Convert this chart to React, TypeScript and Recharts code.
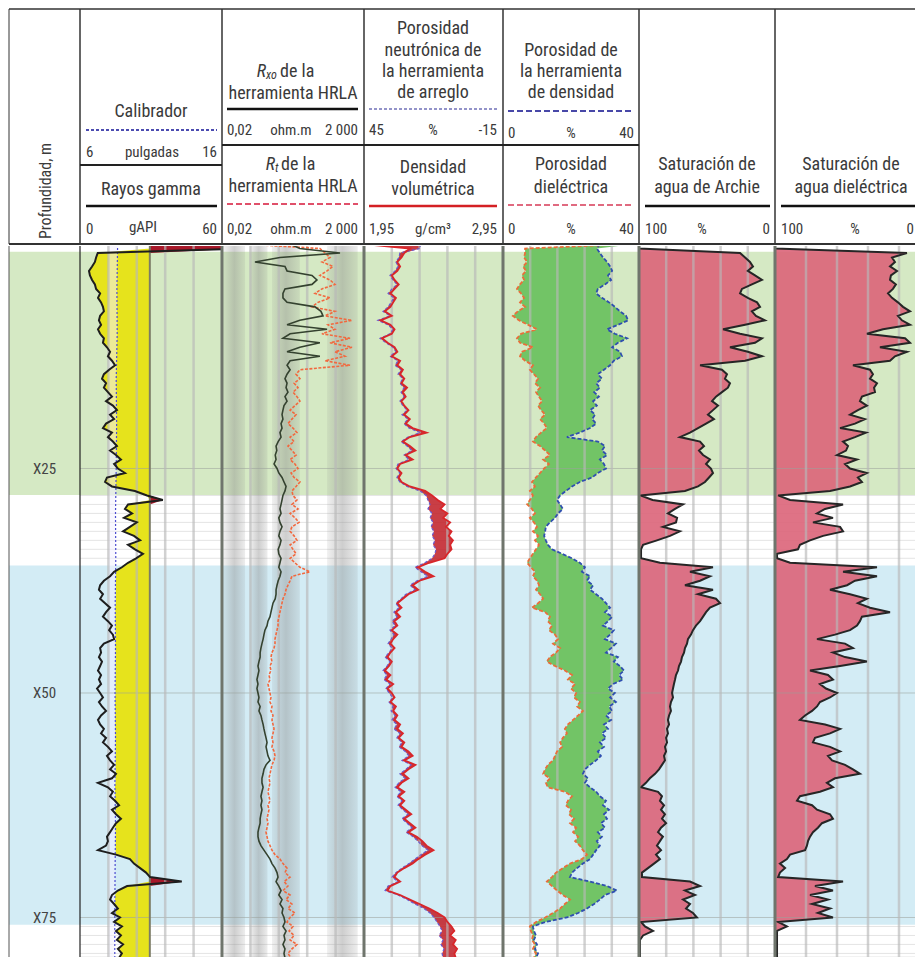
import React from 'react';
import {
  ComposedChart, Line, Area, XAxis, YAxis, CartesianGrid, ReferenceArea, ReferenceLine,
} from 'recharts';

// ---------------- data ----------------
const DEPTH_STEP = 0.5; // m, regular log sampling, depth 0 = top of plot
const DEPTH_DOMAIN: [number, number] = [0, 79.4];
const METER_TICKS = [
  0, 1, 2, 3, 4, 5, 6, 7, 8, 9, 10, 11, 12, 13, 14, 15, 16, 17, 18, 19, 20, 21, 22, 23, 24, 25, 26, 27, 28, 29,
  30, 31, 32, 33, 34, 35, 36, 37, 38, 39, 40, 41, 42, 43, 44, 45, 46, 47, 48, 49, 50, 51, 52, 53, 54, 55, 56, 57,
  58, 59, 60, 61, 62, 63, 64, 65, 66, 67, 68, 69, 70, 71, 72, 73, 74, 75, 76, 77, 78, 79,
];
const DEPTH_LABELS = [25, 50, 75];
const GREEN_ZONE = { from: 0.86, to: 27.95 };
const BLUE_ZONE = { from: 35.8, to: 75.8 };

// Gamma ray, gAPI
const GR = [
  80, 70, 7.5, 6.8, 6.3, 5.1, 3.8, 4.2, 5.1, 6.3,
  6.8, 8.5, 7.6, 8.9, 9.7, 10.1, 8.5, 8.0, 8.9, 7.6,
  8.5, 10.1, 9.7, 11.4, 12.7, 11.8, 13.5, 14.8, 12.3, 10.1,
  9.3, 11.0, 10.1, 11.8, 13.5, 11.0, 13.9, 15.6, 12.7, 14.4,
  11.0, 9.7, 13.5, 11.8, 13.9, 15.6, 12.7, 15.2, 17.3, 14.4,
  16.0, 19.0, 11.4, 10.6, 13.5, 23.2, 28.3, 35.0, 20.3, 19.0,
  22.0, 18.6, 24.0, 21.1, 18.2, 22.8, 25.4, 20.3, 23.2, 26.6,
  23.7, 20.3, 17.7, 14.4, 12.7, 10.1, 8.5, 8.0, 9.7, 8.5,
  10.6, 12.7, 11.0, 9.7, 11.8, 13.5, 12.3, 13.9, 14.4, 10.1,
  8.5, 8.9, 8.0, 9.3, 8.5, 7.6, 8.9, 8.0, 8.9, 7.2,
  8.5, 9.7, 8.0, 9.3, 11.0, 8.9, 7.6, 8.5, 10.1, 8.9,
  11.0, 9.7, 11.8, 13.5, 11.4, 12.7, 14.4, 12.7, 15.2, 13.5,
  7.6, 11.8, 13.9, 12.7, 14.8, 16.5, 13.5, 15.2, 17.3, 15.2,
  13.9, 12.7, 11.4, 11.8, 11.0, 7.6, 15.2, 21.1, 22.8, 25.4,
  27.9, 29.6, 43.0, 19.9, 16.0, 13.5, 12.7, 14.4, 16.0, 13.5,
  16.9, 14.4, 17.7, 15.2, 17.3, 15.6, 18.2, 16.0, 17.7, 16.5,
];
const GR_CUTOFF = 29.5;

// Caliper, inches (sparser sampling)
const CAL_DEPTHS = [0, 5, 10, 15, 20, 25, 30, 35, 40, 45, 50, 55, 60, 65, 70, 75, 80];
const CAL = [8.65, 8.6, 8.62, 8.55, 8.58, 8.55, 8.5, 8.52, 8.48, 8.5, 8.47, 8.5, 8.46, 8.5, 8.47, 8.45, 8.45];
const BIT_SIZE = 8.0;

// Rxo (HRLA), ohm.m
const RXO = [
  5.0, 11, 286, 2.2, 0.29, 3.3, 3.9, 29.5, 44, 29.5,
  3.3, 2.8, 2.8, 3.9, 37.6, 61, 72, 11, 3.9, 100,
  5.0, 2.8, 56, 11, 3.9, 56, 5.0, 3.9, 5.0, 3.9,
  3.3, 3.9, 3.6, 4.2, 3.3, 3.9, 3.05, 2.8, 2.6, 2.8,
  2.4, 2.6, 2.2, 2.4, 1.9, 1.6, 1.7, 1.5, 1.6, 1.36,
  1.73, 2.0, 2.6, 3.05, 3.6, 3.3, 2.8, 2.6, 2.4, 2.2,
  2.4, 2.0, 2.2, 2.6, 2.2, 2.0, 2.4, 2.2, 1.9, 2.0,
  2.4, 2.2, 2.0, 2.4, 2.2, 1.9, 1.73, 1.6, 1.6, 1.5,
  1.25, 1.15, 1.06, 0.98, 0.83, 0.77, 0.65, 0.6, 0.56, 0.51,
  0.47, 0.44, 0.44, 0.40, 0.37, 0.40, 0.37, 0.34, 0.37, 0.34,
  0.37, 0.40, 0.37, 0.44, 0.40, 0.47, 0.51, 0.56, 0.6, 0.65,
  0.71, 0.77, 0.71, 0.77, 0.83, 0.98, 0.71, 0.6, 0.56, 0.51,
  0.51, 0.56, 0.51, 0.47, 0.51, 0.47, 0.51, 0.47, 0.44, 0.44,
  0.40, 0.37, 0.37, 0.40, 0.47, 0.6, 0.77, 0.98, 1.15, 1.47,
  1.73, 1.88, 1.6, 2.0, 2.4, 2.0, 2.6, 2.2, 2.8, 2.6,
  3.05, 3.3, 2.8, 3.6, 3.05, 3.3, 2.8, 3.3, 3.05, 3.3,
];

// Rt (HRLA), ohm.m
const RT = [
  0.11, 56, 85, 127, 66, 162, 100, 56, 127, 190,
  66, 37.6, 127, 48, 29.5, 190, 85, 755, 108, 190,
  66, 643, 127, 755, 190, 428, 85, 643, 11.1, 8.1,
  11.1, 6.9, 9.5, 6.3, 8.7, 11.1, 7.4, 5.0, 8.1, 5.8,
  4.2, 6.3, 8.7, 5.0, 6.9, 4.2, 5.8, 8.1, 5.0, 7.4,
  9.5, 5.4, 6.9, 11.1, 8.1, 5.8, 6.3, 8.7, 5.8, 9.5,
  5.0, 7.4, 10.3, 5.8, 5.0, 6.9, 8.7, 5.0, 6.3, 8.1,
  5.0, 7.4, 11.1, 25, 5.8, 5.0, 4.2, 3.58, 3.3, 2.81,
  2.59, 2.39, 2.2, 2.03, 1.88, 1.88, 1.73, 1.59, 1.47, 1.47,
  1.36, 1.15, 1.06, 1.15, 0.98, 1.06, 0.9, 0.98, 0.83, 0.9,
  0.98, 1.06, 0.98, 1.15, 1.06, 1.25, 1.15, 1.25, 1.36, 1.25,
  1.15, 1.25, 1.15, 1.36, 1.47, 1.36, 1.15, 1.06, 0.98, 0.9,
  0.98, 0.9, 0.83, 0.9, 0.98, 0.83, 0.9, 0.83, 0.77, 0.83,
  0.77, 0.71, 0.77, 0.83, 0.98, 1.15, 1.47, 2.2, 2.81, 3.89,
  3.3, 4.96, 3.05, 4.2, 2.81, 4.96, 3.58, 5.8, 4.2, 7.4,
  4.96, 3.89, 6.3, 4.6, 6.9, 4.96, 8.7, 5.8, 4.2, 5.4,
];

// Bulk density, g/cm3
const RHOB = [
  1.95, 2.28, 2.24, 2.22, 2.19, 2.21, 2.19, 2.15, 2.17, 2.20,
  2.17, 2.14, 2.18, 2.16, 2.14, 2.10, 2.15, 2.07, 2.14, 2.17,
  2.15, 2.08, 2.12, 2.17, 2.19, 2.15, 2.21, 2.19, 2.23, 2.21,
  2.24, 2.22, 2.26, 2.23, 2.25, 2.22, 2.24, 2.27, 2.24, 2.28,
  2.25, 2.30, 2.40, 2.28, 2.23, 2.28, 2.32, 2.25, 2.30, 2.21,
  2.19, 2.22, 2.20, 2.22, 2.28, 2.39, 2.44, 2.48, 2.53, 2.50,
  2.55, 2.52, 2.57, 2.54, 2.58, 2.56, 2.59, 2.57, 2.58, 2.55,
  2.53, 2.42, 2.34, 2.39, 2.45, 2.35, 2.30, 2.34, 2.27, 2.23,
  2.19, 2.22, 2.18, 2.21, 2.17, 2.19, 2.15, 2.19, 2.16, 2.14,
  2.17, 2.14, 2.12, 2.15, 2.13, 2.10, 2.14, 2.11, 2.16, 2.12,
  2.15, 2.17, 2.14, 2.18, 2.16, 2.19, 2.17, 2.21, 2.19, 2.23,
  2.20, 2.24, 2.22, 2.27, 2.30, 2.24, 2.32, 2.27, 2.23, 2.27,
  2.22, 2.19, 2.24, 2.20, 2.24, 2.21, 2.25, 2.29, 2.24, 2.28,
  2.32, 2.27, 2.33, 2.37, 2.40, 2.45, 2.39, 2.34, 2.30, 2.24,
  2.19, 2.17, 2.21, 2.14, 2.12, 2.21, 2.28, 2.35, 2.42, 2.48,
  2.53, 2.55, 2.58, 2.60, 2.57, 2.61, 2.59, 2.62, 2.60, 2.61,
];

// Array neutron porosity, %
const NPHI = [
  20.8, 20.8, 29.5, 29.9, 31.2, 30.3, 31.6, 33.8, 32.5, 30.8,
  32.9, 34.6, 32.1, 33.3, 34.6, 36.8, 33.8, 39.0, 34.6, 32.5,
  33.8, 38.1, 35.5, 32.5, 31.2, 33.8, 30.3, 31.6, 29.0, 30.3,
  28.2, 29.5, 27.7, 29.0, 27.7, 29.5, 28.2, 26.4, 28.6, 26.0,
  27.7, 25.6, 20.8, 26.0, 29.0, 26.4, 24.3, 27.7, 25.6, 30.3,
  31.2, 29.5, 30.8, 29.5, 26.4, 20.8, 18.2, 17.4, 16.5, 17.4,
  15.6, 16.5, 15.2, 16.1, 14.8, 15.6, 14.4, 15.2, 13.9, 14.4,
  15.6, 18.7, 23.0, 20.4, 17.4, 22.1, 25.1, 23.0, 26.9, 29.0,
  31.2, 29.9, 32.1, 30.8, 32.9, 31.6, 33.8, 32.1, 33.3, 34.6,
  32.9, 34.2, 35.9, 33.8, 35.1, 36.8, 35.1, 36.4, 33.8, 35.5,
  34.2, 32.5, 34.2, 32.5, 33.3, 31.6, 32.9, 30.8, 32.1, 29.5,
  30.8, 28.6, 29.9, 27.3, 25.6, 28.6, 24.7, 26.9, 29.5, 27.3,
  29.9, 31.6, 29.0, 30.8, 28.6, 30.3, 28.2, 26.0, 28.6, 26.4,
  24.3, 26.9, 23.8, 21.7, 20.0, 17.4, 20.4, 23.0, 25.6, 28.6,
  31.2, 32.9, 30.3, 34.6, 35.9, 30.3, 26.4, 23.0, 19.1, 16.5,
  14.8, 13.5, 12.2, 11.3, 12.6, 10.9, 11.8, 10.5, 11.3, 10.9,
];

// Dielectric porosity, %
const PHI_DIEL = [
  39, 6.5, 6.5, 6.2, 7.1, 5.9, 6.8, 5.6, 6.2, 5.0,
  4.1, 5.3, 6.2, 5.0, 6.5, 4.4, 2.9, 4.7, 7.4, 10.0,
  5.3, 4.1, 5.0, 8.8, 5.6, 5.0, 6.5, 8.8, 7.9, 9.1,
  10.3, 9.4, 10.9, 9.7, 10.6, 11.5, 10.3, 11.2, 12.4, 10.9,
  12.1, 12.9, 11.2, 9.7, 8.8, 10.9, 12.4, 13.8, 11.8, 13.5,
  12.1, 10.9, 9.7, 8.5, 9.4, 7.9, 8.8, 7.9, 7.1, 8.5,
  9.4, 7.9, 9.1, 10.0, 8.8, 10.3, 9.4, 10.6, 9.7, 8.8,
  7.9, 7.1, 8.2, 9.4, 8.8, 10.0, 10.6, 9.7, 10.9, 11.8,
  10.3, 8.5, 12.4, 13.8, 13.2, 14.4, 13.5, 15.3, 16.2, 14.7,
  16.8, 15.6, 13.8, 12.9, 15.3, 18.2, 20.3, 19.1, 21.2, 20.0,
  21.5, 20.9, 22.6, 21.8, 23.5, 22.1, 20.6, 19.1, 18.2, 18.8,
  17.6, 16.8, 17.4, 15.9, 15.3, 14.7, 13.2, 12.4, 11.8, 13.8,
  12.6, 13.2, 18.2, 20.3, 19.1, 18.5, 20.0, 19.4, 20.9, 19.7,
  21.5, 20.6, 22.1, 21.2, 22.6, 23.5, 24.7, 23.2, 19.7, 17.6,
  15.6, 14.4, 12.9, 14.4, 15.9, 17.6, 19.7, 18.2, 16.8, 14.7,
  12.4, 9.7, 7.9, 8.2, 8.8, 8.5, 9.4, 8.8, 9.7, 9.1,
];

// Density-tool porosity, %
const PHI_DEN = [
  28.5, 27.6, 28.5, 29.4, 30.6, 31.5, 32.1, 30.9, 31.8, 30.0,
  27.9, 27.4, 29.1, 31.2, 32.9, 34.4, 36.2, 36.8, 33.8, 30.6,
  32.9, 36.5, 33.8, 32.1, 34.4, 35.0, 32.6, 31.5, 29.7, 27.9,
  29.1, 27.4, 28.5, 26.8, 28.2, 26.5, 27.6, 25.6, 27.1, 26.2,
  27.4, 25.6, 22.6, 18.8, 27.9, 30.0, 29.1, 30.6, 28.5, 29.7,
  30.3, 27.9, 26.2, 22.6, 20.3, 18.5, 16.8, 15.9, 16.8, 17.6,
  16.2, 15.3, 13.8, 12.6, 12.4, 12.1, 12.6, 13.2, 14.4, 17.4,
  20.3, 22.6, 24.1, 23.2, 25.6, 24.7, 26.5, 25.6, 27.4, 29.1,
  30.3, 31.5, 30.0, 32.1, 30.9, 29.4, 32.6, 31.5, 30.0, 33.2,
  31.8, 30.3, 33.8, 32.6, 34.4, 35.6, 34.1, 35.3, 32.4, 30.9,
  32.9, 31.5, 33.2, 31.2, 32.1, 30.3, 31.8, 29.7, 30.9, 29.1,
  30.3, 28.5, 29.7, 27.9, 28.8, 27.4, 25.6, 24.1, 23.5, 25.0,
  24.1, 25.6, 27.4, 28.5, 30.3, 29.4, 31.2, 29.7, 30.6, 28.8,
  30.0, 27.9, 29.1, 27.6, 28.5, 27.4, 26.5, 25.6, 23.5, 21.8,
  20.3, 19.7, 25.6, 30.6, 33.5, 30.0, 28.5, 26.8, 24.7, 22.1,
  18.8, 12.4, 8.8, 9.1, 9.7, 9.1, 10.0, 9.4, 10.3, 9.7,
];

// Archie water saturation, %
const SW_ARCHIE = [
  100, 100, 25.7, 22, 18.4, 16.2, 20, 14.7, 9.6, 17,
  24.3, 25.7, 20, 13.2, 11, 17, 14, 7.4, 22, 38.2,
  25.7, 9.6, 14.7, 33.1, 20, 9.6, 22, 55.1, 39, 35.3,
  36.8, 33.1, 34.6, 39, 43.4, 46.3, 41.9, 45.6, 49.3, 44.9,
  50.7, 56.6, 62.5, 69.9, 55.1, 52.2, 55.9, 52.9, 47.8, 50.7,
  47.1, 45.6, 48.5, 51.5, 56.6, 66.2, 99, 90, 67.6, 73.5,
  78.7, 72, 72.8, 82.4, 69.9, 77.2, 86.8, 97, 98.5, 98.5,
  98.5, 84.6, 45.6, 62.5, 47.8, 55.1, 66.2, 45.6, 56.6, 43.4,
  40.4, 47.8, 50.7, 52.9, 55.1, 58.1, 60.3, 61.8, 64, 64.7,
  66.2, 66.9, 68.4, 69.1, 70.6, 71.3, 72.8, 73.5, 74.3, 75,
  75.7, 75, 76.5, 77.2, 76.5, 77.9, 78.7, 77.9, 79.4, 78.7,
  80.1, 79.4, 80.9, 80.1, 81.6, 80.9, 83.1, 85.3, 88.2, 92,
  94.9, 98.5, 86, 83.1, 84.6, 81.6, 83.8, 80.9, 83.1, 80.1,
  83.8, 86, 82.4, 84.6, 86.8, 83.8, 87.5, 84.6, 89, 93.4,
  97.8, 97.8, 62.5, 55.1, 66.2, 58.8, 67.6, 62.5, 65.4, 60.3,
  57.4, 98.5, 95.6, 89.7, 97, 99.3, 99.3, 99.3, 99.3, 99.3,
];

// Dielectric water saturation, %
const SW_DIEL = [
  100, 100, 14.9, 24.5, 22.6, 25.8, 21.3, 25.2, 25.8, 22,
  23.9, 27.1, 24.5, 20.7, 17.4, 12.9, 20.7, 18.1, 12.9, 30.3,
  40.7, 16.1, 12.9, 32.3, 14.9, 22.6, 25.8, 49.7, 38.7, 36.8,
  38.7, 34.2, 36.1, 35.5, 43.9, 45.2, 40.7, 46.5, 51.6, 42,
  48.4, 58, 41.3, 48.4, 56.1, 52.9, 54.2, 60, 47.1, 54.8,
  51.6, 40.7, 46.5, 43.9, 51.6, 64.5, 98, 90.3, 56.1, 67.7,
  72.9, 62.6, 75.5, 58, 56.1, 69, 77.4, 83.9, 85.2, 98.7,
  98.7, 90.3, 34.2, 56.1, 34.2, 48.4, 53.5, 64.5, 51.6, 40.7,
  46.5, 38.7, 25.8, 43.9, 45.2, 47.1, 51.6, 61.3, 72.9, 54.8,
  49.7, 62.6, 54.8, 40.7, 58, 77.4, 65.8, 62.6, 71, 67.1,
  60, 64.5, 71, 72.9, 76.1, 80.6, 83.9, 67.7, 58, 64.5,
  74.2, 75.5, 64.5, 58, 65.8, 63.2, 54.8, 49.7, 45.2, 61.3,
  66.5, 62.6, 71, 83.9, 85.8, 76.1, 72.9, 64.5, 62.6, 69.7,
  72.3, 75.5, 77.4, 78.7, 79.4, 80.6, 90.3, 92.3, 96.8, 93.5,
  96.8, 98, 56.1, 74.2, 62.6, 77.4, 65.8, 76.1, 64.5, 72.3,
  62.6, 98, 92.3, 98.7, 98.7, 98.7, 98.7, 98.7, 98.7, 98.7,
];

// grid values per track (axis units)
const CAL_GRID = [8, 10, 12, 14];
const RES_GRID = [0.2, 2, 20, 200];
const RES_BANDS = [[0.023, 0.13], [0.19, 0.8], [1.15, 11], [100, 1200]];
const RHOB_GRID = [2.15, 2.35, 2.55, 2.75];
const PHI_GRID = [8, 16, 24, 32];
const SW_GRID = [20, 40, 60, 80];

// ---------------- derived rows ----------------
const DEPTHS = GR.map((_, i) => i * DEPTH_STEP);
const inBlue = (d: number) => d >= BLUE_ZONE.from && d <= BLUE_ZONE.to;
const calAt = (d: number) => {
  let k = 0;
  while (k < CAL_DEPTHS.length - 2 && CAL_DEPTHS[k + 1] < d) k++;
  return CAL[k];
};
const calToGR = (c: number) => ((c - 6) / 10) * 60;
const nphiToRhob = (n: number) => 1.95 + (45 - n) / 60;

const grRows = GR.map((v, i) => ({ d: DEPTHS[i], v }));
const yellowRows = GR.map((g, i) => {
  const d = DEPTHS[i];
  let lo = inBlue(d) ? Math.max(g, calToGR(calAt(d))) : g;
  lo = Math.min(lo, GR_CUTOFF);
  return { d, r: [lo, GR_CUTOFF] };
});
const redRows = GR.map((g, i) => ({ d: DEPTHS[i], r: [GR_CUTOFF, Math.max(g, GR_CUTOFF)] }));
const calRows = CAL.map((v, i) => ({ d: CAL_DEPTHS[i], v }));
const calFillRows = CAL.map((v, i) => ({ d: CAL_DEPTHS[i], r: [BIT_SIZE, v] }));
const rxoRows = RXO.map((v, i) => ({ d: DEPTHS[i], v }));
const rtRows = RT.map((v, i) => ({ d: DEPTHS[i], v }));
const rhobRows = RHOB.map((v, i) => ({ d: DEPTHS[i], v }));
const nphiRows = NPHI.map((v, i) => ({ d: DEPTHS[i], v }));
const sepRows = RHOB.map((v, i) => {
  const n = nphiToRhob(NPHI[i]);
  return { d: DEPTHS[i], r: [Math.min(v, n), Math.max(v, n)] };
});
const dielRows = PHI_DIEL.map((v, i) => ({ d: DEPTHS[i], v }));
const denRows = PHI_DEN.map((v, i) => ({ d: DEPTHS[i], v }));
const hcRows = PHI_DIEL.map((v, i) => ({ d: DEPTHS[i], r: [v, Math.max(v, PHI_DEN[i])] }));
const swaRows = SW_ARCHIE.map((v, i) => ({ d: DEPTHS[i], v, r: [v, 100] }));
const swdRows = SW_DIEL.map((v, i) => ({ d: DEPTHS[i], v, r: [v, 100] }));
const depthLabelRows = DEPTH_LABELS.map((d) => ({ d, v: 0.5 }));

// ---------------- styling ----------------
const FONT = "'Liberation Sans Narrow','Arial Narrow','Roboto Condensed','DejaVu Sans Condensed',sans-serif";
const TXT = '#3a3a3a';
const GREEN_BG = '#d5e9c4';
const BLUE_BG = '#d3ecf5';
const GRID = '#b9b9b9';
const H = 713;
const TOP = 244;
const M = { top: 0, right: 0, bottom: 0, left: 0 };

function base(key: string, withGrid = true) {
  const out = [
    <YAxis key={key + 'y'} type="number" dataKey="d" domain={DEPTH_DOMAIN} hide allowDataOverflow ticks={METER_TICKS} interval={0} />,
  ];
  if (withGrid) out.push(<CartesianGrid key={key + 'g'} vertical={false} stroke="#e4e4e4" strokeWidth={1} />);
  out.push(
    <ReferenceArea key={key + 'z1'} y1={GREEN_ZONE.from} y2={GREEN_ZONE.to} fill={GREEN_BG} fillOpacity={1} stroke="none" ifOverflow="hidden" />,
    <ReferenceArea key={key + 'z2'} y1={BLUE_ZONE.from} y2={BLUE_ZONE.to} fill={BLUE_BG} fillOpacity={1} stroke="none" ifOverflow="hidden" />,
  );
  if (withGrid) {
    DEPTH_LABELS.forEach((d) =>
      out.push(<ReferenceLine key={key + 'm' + d} y={d} stroke="#9aa39a" strokeOpacity={0.55} strokeWidth={1} />),
    );
  }
  return out;
}

const gridLines = (vals: number[], key: string, axisId?: string) =>
  vals.map((v) =>
    axisId ? (
      <ReferenceLine key={key + v} x={v} xAxisId={axisId} stroke={GRID} strokeWidth={2.5} strokeOpacity={0.65} />
    ) : (
      <ReferenceLine key={key + v} x={v} stroke={GRID} strokeWidth={2.5} strokeOpacity={0.65} />
    ),
  );

function Box({ left, width, children }: { left: number; width: number; children: React.ReactNode }) {
  return <div style={{ position: 'absolute', left, top: TOP, width, height: H }}>{children}</div>;
}

// ---------------- header ----------------
function T({ x, y, a = 'middle', s = 18, children, italic }: any) {
  return (
    <text x={x} y={y} textAnchor={a} dominantBaseline="central" fontSize={s} fill={TXT} fontFamily={FONT} fontStyle={italic ? 'italic' : undefined}>
      {children}
    </text>
  );
}

function Header() {
  const ln = '#333';
  return (
    <svg width={915} height={246} style={{ position: 'absolute', left: 0, top: 0 }}>
      <rect x={0} y={0} width={915} height={246} fill="#fff" />
      <line x1={9} y1={9} x2={915} y2={9} stroke={ln} strokeWidth={1.5} />
      {[9, 80, 222, 364, 503, 639, 775].map((x) => (
        <line key={x} x1={x} y1={9} x2={x} y2={244} stroke={ln} strokeWidth={x === 9 ? 1 : 1.5} />
      ))}
      <line x1={80} y1={165} x2={222} y2={165} stroke="#222" strokeWidth={2} />
      <line x1={222} y1={145} x2={639} y2={145} stroke="#222" strokeWidth={2} />
      <line x1={9} y1={244} x2={915} y2={244} stroke="#333" strokeWidth={2} />

      {/* depth */}
      <text x={0} y={0} transform="translate(45,191) rotate(-90)" textAnchor="middle" dominantBaseline="central" fontSize={16} fill={TXT} fontFamily={FONT}>
        Profundidad, m
      </text>

      {/* GR / caliper */}
      <T x={151} y={110}>Calibrador</T>
      <line x1={86} y1={130} x2={217} y2={130} stroke="#4b4bb0" strokeWidth={2} strokeDasharray="3 2" />
      <T x={86} y={152} a="start" s={15}>6</T>
      <T x={152} y={152} s={15}>pulgadas</T>
      <T x={217} y={152} a="end" s={15}>16</T>
      <T x={151} y={188}>Rayos gamma</T>
      <line x1={86} y1={206} x2={217} y2={206} stroke="#111" strokeWidth={2.5} />
      <T x={86} y={229} a="start" s={15}>0</T>
      <T x={143} y={227} s={15}>gAPI</T>
      <T x={217} y={229} a="end" s={15}>60</T>

      {/* resistivity */}
      <T x={266} y={70} a="end" italic>R</T>
      <T x={266} y={75} a="start" s={12} italic>xo</T>
      <T x={280} y={70} a="start">de la</T>
      <T x={293} y={92}>herramienta HRLA</T>
      <line x1={227} y1={109} x2={358} y2={109} stroke="#111" strokeWidth={2.5} />
      <T x={227} y={130} a="start" s={15}>0,02</T>
      <T x={291} y={130} s={15}>ohm.m</T>
      <T x={358} y={130} a="end" s={15}>2 000</T>
      <T x={275} y={163} a="end" italic>R</T>
      <T x={275} y={168} a="start" s={12} italic>t</T>
      <T x={281} y={163} a="start">de la</T>
      <T x={293} y={185}>herramienta HRLA</T>
      <line x1={227} y1={204} x2={358} y2={204} stroke="#e0506a" strokeWidth={2} strokeDasharray="6 3" />
      <T x={227} y={229} a="start" s={15}>0,02</T>
      <T x={291} y={229} s={15}>ohm.m</T>
      <T x={358} y={229} a="end" s={15}>2 000</T>

      {/* neutron / density */}
      <T x={433} y={27}>Porosidad</T>
      <T x={433} y={49}>neutrónica de</T>
      <T x={433} y={70}>la herramienta</T>
      <T x={433} y={91}>de arreglo</T>
      <line x1={369} y1={109} x2={497} y2={109} stroke="#7070b8" strokeWidth={1.5} strokeDasharray="3 2" />
      <T x={369} y={130} a="start" s={15}>45</T>
      <T x={433} y={130} s={15}>%</T>
      <T x={497} y={130} a="end" s={15}>-15</T>
      <T x={433} y={166}>Densidad</T>
      <T x={433} y={188}>volumétrica</T>
      <line x1={369} y1={206} x2={497} y2={206} stroke="#d42024" strokeWidth={2.5} />
      <T x={369} y={229} a="start" s={15}>1,95</T>
      <T x={433} y={229} s={15}>g/cm³</T>
      <T x={497} y={229} a="end" s={15}>2,95</T>

      {/* porosity */}
      <T x={571} y={49}>Porosidad de</T>
      <T x={571} y={70}>la herramienta</T>
      <T x={571} y={91}>de densidad</T>
      <line x1={508} y1={111} x2={634} y2={111} stroke="#4848a8" strokeWidth={2} strokeDasharray="6 3" />
      <T x={508} y={133} a="start" s={15}>0</T>
      <T x={571} y={133} s={15}>%</T>
      <T x={634} y={133} a="end" s={15}>40</T>
      <T x={571} y={163}>Porosidad</T>
      <T x={571} y={186}>dieléctrica</T>
      <line x1={508} y1={205} x2={634} y2={205} stroke="#e06a80" strokeWidth={2} strokeDasharray="6 3" />
      <T x={508} y={229} a="start" s={15}>0</T>
      <T x={571} y={229} s={15}>%</T>
      <T x={634} y={229} a="end" s={15}>40</T>

      {/* Archie */}
      <T x={707} y={163}>Saturación de</T>
      <T x={707} y={186}>agua de Archie</T>
      <line x1={645} y1={206} x2={770} y2={206} stroke="#111" strokeWidth={2.5} />
      <T x={645} y={229} a="start" s={15}>100</T>
      <T x={702} y={229} s={15}>%</T>
      <T x={770} y={229} a="end" s={15}>0</T>

      {/* dielectric Sw */}
      <T x={851} y={163}>Saturación de</T>
      <T x={851} y={186}>agua dieléctrica</T>
      <line x1={781} y1={206} x2={915} y2={206} stroke="#111" strokeWidth={2.5} />
      <T x={781} y={229} a="start" s={15}>100</T>
      <T x={855} y={229} s={15}>%</T>
      <T x={914} y={229} a="end" s={15}>0</T>
    </svg>
  );
}

function Frame() {
  const c = '#6f756c';
  return (
    <svg width={915} height={H} style={{ position: 'absolute', left: 0, top: TOP, pointerEvents: 'none' }}>
      <line x1={9} y1={0} x2={9} y2={H} stroke="#555" strokeWidth={1} />
      <line x1={80} y1={0} x2={80} y2={H} stroke="#222" strokeWidth={1.2} />
      {[222, 364, 503, 639, 775].map((x) => (
        <line key={x} x1={x} y1={0} x2={x} y2={H} stroke={c} strokeWidth={3} />
      ))}
    </svg>
  );
}

const lineProps = { type: 'linear' as const, dot: false, activeDot: false, isAnimationActive: false };

// ---------------- app ----------------
export default function App() {
  return (
    <div style={{ position: 'absolute', left: 0, top: 0, width: 915, height: 957, overflow: 'hidden', background: '#fff' }}>
      {/* depth track */}
      <Box left={9} width={71}>
        <ComposedChart layout="vertical" width={71} height={H} margin={M}>
          <XAxis type="number" domain={[0, 1]} hide allowDataOverflow />
          {base('dp', false)}
          <Line data={depthLabelRows} dataKey="v" {...lineProps} stroke="none" />
          {DEPTH_LABELS.map((d) => (
            <ReferenceLine key={'lbl' + d} y={d} stroke="none"
              label={{ value: 'X' + d, position: 'center', fill: '#444', fontSize: 15, fontFamily: FONT }} />
          ))}
        </ComposedChart>
      </Box>

      {/* GR + caliper */}
      <Box left={80} width={142}>
        <ComposedChart layout="vertical" width={142} height={H} margin={M}>
          <XAxis type="number" domain={[0, 60]} hide allowDataOverflow />
          <XAxis xAxisId="cal" type="number" domain={[6, 16]} hide allowDataOverflow />
          {base('gr')}
          {gridLines(CAL_GRID, 'cg', 'cal')}
          <Area data={yellowRows} dataKey="r" type="linear" fill="#e6e31c" fillOpacity={1} stroke="none" isAnimationActive={false} />
          <Area data={redRows} dataKey="r" type="linear" fill="#a8182a" fillOpacity={1} stroke="none" isAnimationActive={false} />
          <Area data={calFillRows} xAxisId="cal" dataKey="r" type="linear" fill="#f2f1ff" fillOpacity={0.55} stroke="none" isAnimationActive={false} />
          <ReferenceLine x={GR_CUTOFF} stroke="#7c7c66" strokeWidth={2} />
          <Line data={calRows} xAxisId="cal" dataKey="v" {...lineProps} stroke="#4c4cd0" strokeWidth={1.2} strokeDasharray="2 2" />
          <Line data={grRows} dataKey="v" {...lineProps} stroke="#1e1e1e" strokeWidth={2} />
        </ComposedChart>
      </Box>

      {/* resistivity */}
      <Box left={222} width={142}>
        <ComposedChart layout="vertical" width={142} height={H} margin={M}>
          <defs>
            <linearGradient id="resBand" x1="0" y1="0" x2="1" y2="0">
              <stop offset="0%" stopColor="#8a8a8a" stopOpacity={0.12} />
              <stop offset="50%" stopColor="#8a8a8a" stopOpacity={0.42} />
              <stop offset="100%" stopColor="#8a8a8a" stopOpacity={0.15} />
            </linearGradient>
          </defs>
          <XAxis type="number" scale="log" domain={[0.02, 2000]} hide allowDataOverflow />
          {base('rs')}
          {RES_BANDS.map(([a, b]) => (
            <ReferenceArea key={'b' + a} x1={a} x2={b} fill="url(#resBand)" fillOpacity={1} stroke="none" ifOverflow="hidden" />
          ))}
          {gridLines(RES_GRID, 'rg')}
          <Line data={rtRows} dataKey="v" {...lineProps} stroke="#f2683e" strokeWidth={1.6} strokeDasharray="3 1.5" />
          <Line data={rxoRows} dataKey="v" {...lineProps} stroke="#34422f" strokeWidth={1.6} />
        </ComposedChart>
      </Box>

      {/* density / neutron */}
      <Box left={364} width={139}>
        <ComposedChart layout="vertical" width={139} height={H} margin={M}>
          <XAxis type="number" domain={[1.95, 2.95]} hide allowDataOverflow />
          <XAxis xAxisId="n" type="number" domain={[-15, 45]} reversed hide allowDataOverflow />
          {base('dn')}
          {gridLines(RHOB_GRID, 'dg')}
          <Area data={sepRows} dataKey="r" type="linear" fill="#c01c24" fillOpacity={0.85} stroke="none" isAnimationActive={false} />
          <Line data={nphiRows} xAxisId="n" dataKey="v" {...lineProps} stroke="#6a5ad0" strokeWidth={1.2} strokeDasharray="3 2" />
          <Line data={rhobRows} dataKey="v" {...lineProps} stroke="#d8262a" strokeWidth={1.8} />
        </ComposedChart>
      </Box>

      {/* porosities */}
      <Box left={503} width={136}>
        <ComposedChart layout="vertical" width={136} height={H} margin={M}>
          <XAxis type="number" domain={[0, 40]} hide allowDataOverflow />
          {base('ph')}
          {gridLines(PHI_GRID, 'pg')}
          <Area data={hcRows} dataKey="r" type="linear" fill="#72c466" fillOpacity={1} stroke="none" isAnimationActive={false} />
          <Line data={denRows} dataKey="v" {...lineProps} stroke="#2f4fb0" strokeWidth={1.8} strokeDasharray="4 2" />
          <Line data={dielRows} dataKey="v" {...lineProps} stroke="#ea6e3a" strokeWidth={1.8} strokeDasharray="4 2" />
        </ComposedChart>
      </Box>

      {/* Archie Sw */}
      <Box left={639} width={136}>
        <ComposedChart layout="vertical" width={136} height={H} margin={M}>
          <XAxis type="number" domain={[0, 100]} reversed hide allowDataOverflow />
          {base('sa')}
          {gridLines(SW_GRID, 'sag')}
          <Area data={swaRows} dataKey="r" type="linear" fill="#dc6479" fillOpacity={0.9} stroke="none" isAnimationActive={false} />
          <Line data={swaRows} dataKey="v" {...lineProps} stroke="#262626" strokeWidth={2} />
        </ComposedChart>
      </Box>

      {/* dielectric Sw */}
      <Box left={775} width={155}>
        <ComposedChart layout="vertical" width={155} height={H} margin={M}>
          <XAxis type="number" domain={[0, 100]} reversed hide allowDataOverflow />
          {base('sd')}
          {gridLines(SW_GRID, 'sdg')}
          <Area data={swdRows} dataKey="r" type="linear" fill="#dc6479" fillOpacity={0.9} stroke="none" isAnimationActive={false} />
          <Line data={swdRows} dataKey="v" {...lineProps} stroke="#262626" strokeWidth={2} />
        </ComposedChart>
      </Box>

      <Frame />
      <Header />
    </div>
  );
}
